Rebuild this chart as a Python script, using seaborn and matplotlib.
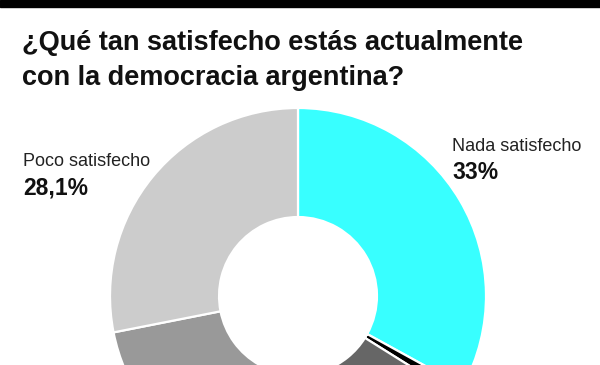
import seaborn as sns
import matplotlib.pyplot as plt

# Datos de la encuesta (orden horario desde arriba)
categorias = ["Nada satisfecho", "Ns/Nc", "Muy satisfecho", "Algo satisfecho", "Poco satisfecho"]
valores = [33.0, 0.9, 10.5, 27.5, 28.1]
colores = ["#38ffff", "#000000", "#666666", "#999999", "#cccccc"]
etiquetas_pct = ["33%", "28,1%"]

titulo = ["¿Qué tan satisfecho estás actualmente", "con la democracia argentina?"]

sns.set_theme(style="white")
plt.rcParams['font.family'] = ['Liberation Sans', 'DejaVu Sans']

fig = plt.figure(figsize=(6, 3.65), dpi=100)

# barra negra superior
fig.patches.append(plt.Rectangle((0, 1 - 7 / 365), 1, 7 / 365, transform=fig.transFigure,
                                 color="black", zorder=5))

# dona
ax = fig.add_axes([110 / 600, (365 - 484) / 365, 376 / 600, 376 / 365])
ax.pie(valores, colors=colores, startangle=90, counterclock=False,
       wedgeprops=dict(width=0.58, edgecolor="white", linewidth=1.6))
ax.set_xlim(-1, 1)
ax.set_ylim(-1, 1)
ax.set_aspect("equal")
ax.axis("off")

# titulo (dos lineas)
for i, linea in enumerate(titulo):
    fig.text(22 / 600, 1 - (50 + 35 * i) / 365, linea, fontsize=19.5, fontweight="bold",
             color="#111111", va="baseline", ha="left")

# etiquetas
fig.text(452 / 600, 1 - 151 / 365, categorias[0], fontsize=13, color="#222222", va="baseline")
fig.text(452 / 600, 1 - 179 / 365, etiquetas_pct[0], fontsize=16.5, fontweight="bold",
         color="#111111", va="baseline")
fig.text(23 / 600, 1 - 166 / 365, categorias[4], fontsize=13, color="#222222", va="baseline")
fig.text(23 / 600, 1 - 194 / 365, etiquetas_pct[1], fontsize=16.5, fontweight="bold",
         color="#111111", va="baseline")

fig.savefig("out.png", dpi=100)
